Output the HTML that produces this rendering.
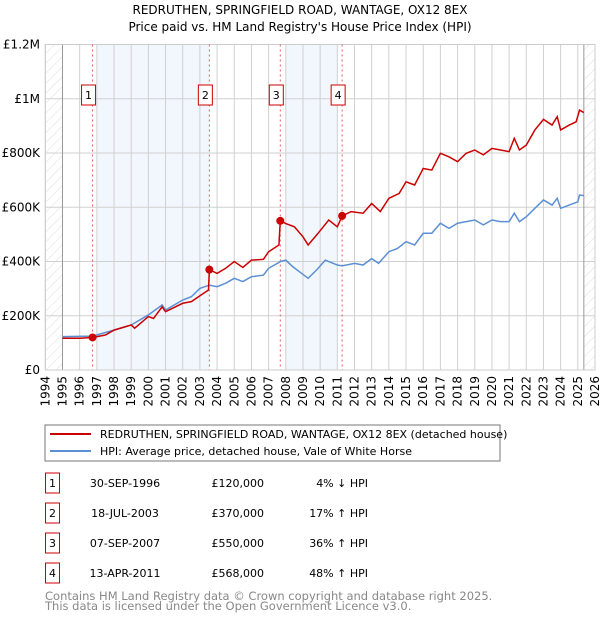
<!DOCTYPE html>
<html><head><meta charset="utf-8"><style>
body{margin:0;background:#fff;font-family:"DejaVu Sans","Liberation Sans",sans-serif;}
svg text{font-family:"DejaVu Sans","Liberation Sans",sans-serif;}
</style></head><body>
<svg id="c" width="600" height="620" xmlns="http://www.w3.org/2000/svg">
<defs><pattern id="h" width="7" height="7" patternUnits="userSpaceOnUse" patternTransform="rotate(45)"><line x1="0" y1="0" x2="0" y2="7" stroke="#d4d4d4" stroke-width="0.8"/></pattern></defs>
<text x="300" y="14" text-anchor="middle" font-size="12">REDRUTHEN, SPRINGFIELD ROAD, WANTAGE, OX12 8EX</text>
<text x="300" y="31" text-anchor="middle" font-size="12">Price paid vs. HM Land Registry's House Price Index (HPI)</text>
<g id="plot"></g>
<rect x="45" y="425" width="455" height="36" fill="#fff" stroke="#777"/>
<line x1="50" y1="434" x2="91" y2="434" stroke="#cc0000" stroke-width="2"/>
<text x="100" y="438" font-size="11">REDRUTHEN, SPRINGFIELD ROAD, WANTAGE, OX12 8EX (detached house)</text>
<line x1="50" y1="451" x2="91" y2="451" stroke="#5b8fd4" stroke-width="2"/>
<text x="100" y="455" font-size="11">HPI: Average price, detached house, Vale of White Horse</text>
<g id="tbl"></g>
<text x="45" y="600" font-size="11.5" fill="#888">Contains HM Land Registry data © Crown copyright and database right 2025.</text>
<text x="45" y="610" font-size="11.5" fill="#888">This data is licensed under the Open Government Licence v3.0.</text>
</svg>
<script>
const priceYears=[1995,1996,1996.75,1997.5,1998,1999,1999.2,2000,2000.3,2000.8,2001,2002,2002.5,2003.5,2003.55,2004,2004.5,2005,2005.5,2006,2006.7,2007,2007.6,2007.68,2008,2008.5,2009,2009.3,2009.8,2010.5,2011,2011.28,2011.8,2012.5,2013,2013.5,2014,2014.6,2015,2015.5,2016,2016.5,2017,2017.5,2018,2018.5,2019,2019.5,2020,2020.5,2021,2021.3,2021.6,2022,2022.5,2023,2023.5,2023.8,2024,2024.5,2024.9,2025.1,2025.35];
const priceVals=[117,117,120,129,147,166,154,197,190,233,215,246,252,295,370,356,375,400,378,405,408,436,461,550,540,528,491,461,498,553,528,568,584,578,614,584,633,651,694,682,743,737,799,786,768,799,811,793,817,811,805,854,811,829,885,924,903,934,885,903,915,958,949];
const hpiYears=[1995,1996.75,1998,1999,2000,2000.8,2001,2002,2002.5,2003,2003.55,2004,2004.5,2005,2005.5,2006,2006.7,2007,2007.7,2008,2008.4,2008.8,2009.3,2009.8,2010.3,2011,2011.28,2012,2012.5,2013,2013.4,2014,2014.5,2015,2015.5,2016,2016.5,2017,2017.5,2018,2019,2019.5,2020,2020.5,2021,2021.3,2021.6,2022,2022.5,2023,2023.5,2023.8,2024,2024.5,2025,2025.1,2025.35];
const hpiVals=[123,125,147,166,203,240,221,258,270,301,313,307,320,338,326,344,350,375,400,405,381,362,338,369,405,387,384,393,387,411,393,436,448,473,461,504,504,541,522,541,553,535,553,547,547,578,547,565,596,627,608,633,596,608,620,645,643];
const saleYears=[1996.75,2003.55,2007.68,2011.28];
const saleVals=[120,370,550,568];
const saleLabels=["1","2","3","4"];
const saleDates=["30-SEP-1996","18-JUL-2003","07-SEP-2007","13-APR-2011"];
const salePrices=["£120,000","£370,000","£550,000","£568,000"];
const saleHpi=["4% ↓ HPI","17% ↑ HPI","36% ↑ HPI","48% ↑ HPI"];
const yTicks=[0,200,400,600,800,1000,1200];
const yTickLabels=["£0","£200K","£400K","£600K","£800K","£1M","£1.2M"];
const bands=[[1997,2003.55],[2008,2011]];

const NS="http://www.w3.org/2000/svg";
const X0=45.3,X1=595,Y0=370,Y1=44.5;
const sx=y=>X0+(y-1994)*(X1-X0)/32;
const sy=v=>Y0-v*(Y0-Y1)/1200;
const g=document.getElementById('plot');
function mk(t,a,p){const e=document.createElementNS(NS,t);for(const k in a)e.setAttribute(k,a[k]);(p||g).appendChild(e);return e;}
for(const b of bands){const r=mk('rect',{x:sx(b[0]),y:Y1,width:sx(b[1])-sx(b[0]),height:Y0-Y1,fill:'#f2f6fd'});

}
for(let y=1994;y<=2026;y++){const l=mk('line',{x1:sx(y),x2:sx(y),y1:Y1,y2:Y0,stroke:'#d0d0d0','stroke-width':1});


const t=mk('text',{x:0,y:0,'font-size':12,'text-anchor':'end',transform:`translate(${sx(y)+4},376) rotate(-90)`});t.textContent=y;

}
yTicks.forEach((v,i)=>{const l=mk('line',{x1:X0,x2:X1,y1:sy(v),y2:sy(v),stroke:'#d0d0d0','stroke-width':1});


const t=mk('text',{x:40,y:sy(v)+4,'font-size':12,'text-anchor':'end'});t.textContent=yTickLabels[i];

});
const h1=mk('rect',{x:X0,y:Y1,width:sx(1995)-X0,height:Y0-Y1,fill:'url(#h)'});


const h2=mk('rect',{x:sx(2025.35),y:Y1,width:X1-sx(2025.35),height:Y0-Y1,fill:'url(#h)'});


const a1=mk('line',{x1:sx(1995),x2:sx(1995),y1:Y1,y2:Y0,stroke:'#999'});


const a2=mk('line',{x1:sx(2025.35),x2:sx(2025.35),y1:Y1,y2:Y0,stroke:'#999'});


const fr=mk('rect',{x:X0,y:Y1,width:X1-X0,height:Y0-Y1,fill:'none',stroke:'#ccc'});


saleYears.forEach((s,i)=>{const l=mk('line',{x1:sx(s),x2:sx(s),y1:Y1,y2:Y0,stroke:'#e06060','stroke-dasharray':'2,3','stroke-width':1});


const r=mk('rect',{x:sx(s)-11,y:85,width:14,height:20,fill:'#fff',stroke:'#cc0000'});


const t=mk('text',{x:sx(s)-4,y:99,'font-size':11,'text-anchor':'middle'});t.textContent=saleLabels[i];

});
const hp=mk('polyline',{points:hpiYears.map((y,i)=>sx(y)+','+sy(hpiVals[i])).join(' '),fill:'none',stroke:'#5b8fd4','stroke-width':1.5});


const pp=mk('polyline',{points:priceYears.map((y,i)=>sx(y)+','+sy(priceVals[i])).join(' '),fill:'none',stroke:'#cc0000','stroke-width':1.5});


saleYears.forEach((s,i)=>{const c=mk('circle',{cx:sx(s),cy:sy(saleVals[i]),r:4,fill:'#cc0000'});

});
const tb=document.getElementById('tbl');
saleYears.forEach((s,i)=>{const y=483+i*30;
const r=mk('rect',{x:45.5,y:y-10,width:14,height:20,fill:'#fff',stroke:'#cc0000'},tb);


const cols=[[52.5,saleLabels[i],'middle'],[125,saleDates[i],'middle'],[264,salePrices[i],'end'],[368,saleHpi[i],'end']];
cols.forEach(c=>{const t=mk('text',{x:c[0],y:y+4,'font-size':11,'text-anchor':c[2]},tb);t.textContent=c[1];

});});
</script>
</body></html>
